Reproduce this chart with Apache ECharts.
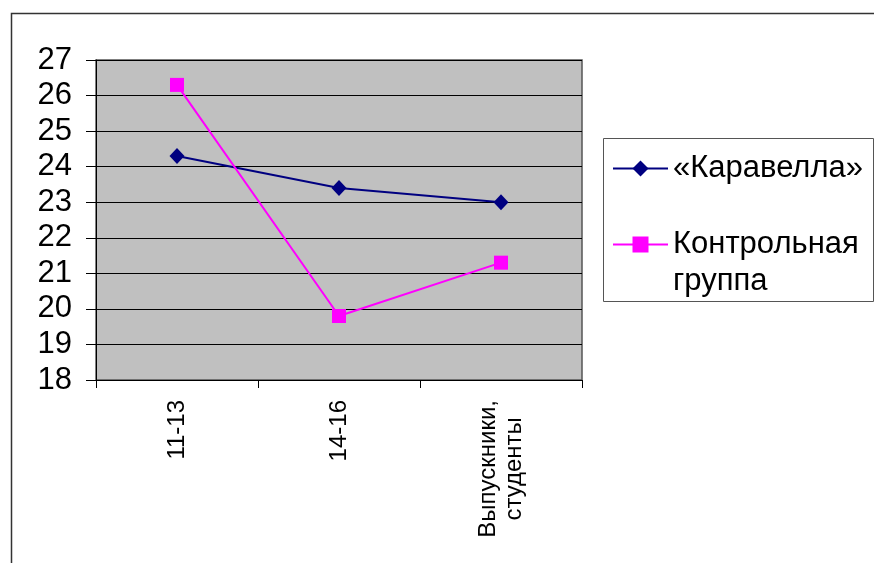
<!DOCTYPE html>
<html>
<head>
<meta charset="utf-8">
<script src="https://cdn.jsdelivr.net/npm/echarts@6/dist/echarts.min.js"></script>
<style>
  html, body { margin: 0; padding: 0; background: #fff; }
  #chart { width: 874px; height: 563px; }
</style>
</head>
<body>
<div id="chart"></div>
<script>
// Age groups on the category axis
const categories = ['11-13', '14-16', 'Выпускники,\nстуденты'];
// Mean scores per group
const karavellaValues = [24.3, 23.4, 23.0];
const controlValues = [26.3, 19.8, 21.3];
const seriesNames = ['«Каравелла»', 'Контрольная группа'];
// Value axis range
const yMin = 18, yMax = 27, yStep = 1;

const FONT = 'Liberation Sans, Arial, sans-serif';

const chart = echarts.init(document.getElementById('chart'), null, { renderer: 'canvas' });

chart.setOption({
  backgroundColor: '#ffffff',
  animation: false,
  graphic: [
    // outer chart frame (runs past the right and bottom edges)
    { type: 'rect', shape: { x: 11.5, y: 13.5, width: 900, height: 600 },
      style: { fill: null, stroke: '#333', lineWidth: 1.5 }, z: 0 },
    // legend frame
    { type: 'rect', shape: { x: 603.5, y: 138.5, width: 270, height: 163 },
      style: { fill: '#fff', stroke: '#555', lineWidth: 1 }, z: 1 }
  ],
  grid: {
    left: 96, right: 292, top: 60, bottom: 183,
    show: true, backgroundColor: '#c0c0c0', borderColor: '#555', borderWidth: 1.5
  },
  legend: [
    {
      data: [seriesNames[0]],
      left: 612, top: 153, padding: 0,
      itemWidth: 55, itemHeight: 20,
      lineStyle: { width: 2 },
      textStyle: { fontFamily: FONT, fontSize: 31, color: '#000' },
      z: 5
    },
    {
      data: [seriesNames[1]],
      left: 612, top: 189, padding: 0,
      itemWidth: 55, itemHeight: 20,
      lineStyle: { width: 2 },
      // leading blank line keeps the icon level with the first text line
      formatter: function () { return '\nКонтрольная\nгруппа'; },
      textStyle: { fontFamily: FONT, fontSize: 31, color: '#000', lineHeight: 37 },
      z: 5
    }
  ],
  xAxis: {
    type: 'category',
    data: categories,
    boundaryGap: true,
    axisLine: { show: true, lineStyle: { color: '#000', width: 1 } },
    axisTick: { show: true, interval: 0, length: 8, lineStyle: { color: '#000' } },
    axisLabel: {
      interval: 0, rotate: 90, margin: 20,
      fontFamily: FONT, fontSize: 24, color: '#000',
      formatter: function (v) {
        return v.split('\n').map(function (s) { return '{c|' + s + '}'; }).join('\n');
      },
      rich: { c: { align: 'center', fontFamily: FONT, fontSize: 24, color: '#000', lineHeight: 26 } }
    },
    splitLine: { show: false }
  },
  yAxis: {
    type: 'value',
    min: yMin, max: yMax, interval: yStep,
    axisLine: { show: true, lineStyle: { color: '#000', width: 1 } },
    axisTick: { show: true, length: 10, lineStyle: { color: '#000' } },
    axisLabel: { margin: 24, fontFamily: FONT, fontSize: 31, color: '#000' },
    splitLine: { show: true, lineStyle: { color: '#000', width: 1 } }
  },
  series: [
    {
      name: seriesNames[0], type: 'line', data: karavellaValues,
      symbol: 'diamond', symbolSize: [15, 16],
      lineStyle: { color: '#000080', width: 2 },
      itemStyle: { color: '#000080' },
      z: 3
    },
    {
      name: seriesNames[1], type: 'line', data: controlValues,
      symbol: 'rect', symbolSize: 14,
      lineStyle: { color: '#ff00ff', width: 2 },
      itemStyle: { color: '#ff00ff' },
      z: 4
    }
  ]
});
</script>
</body>
</html>
